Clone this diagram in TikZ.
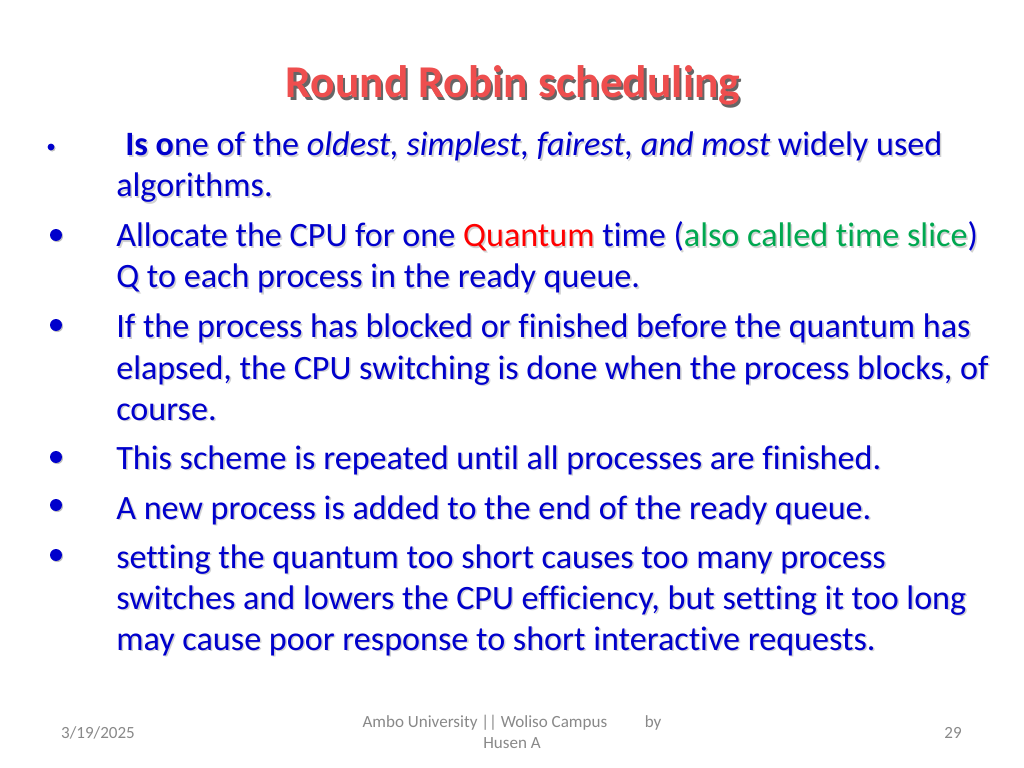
\documentclass[tikz,border=0pt]{standalone}
\usepackage{fontspec}
\setmainfont{Carlito}[Ligatures=NoCommon]
\usetikzlibrary{shadows}
\definecolor{slideblue}{RGB}{0,0,204}
\definecolor{titlered}{RGB}{238,78,78}
\definecolor{slicegreen}{RGB}{0,168,80}
\definecolor{footgray}{RGB}{137,137,137}
\newif\ifshd
\newcommand{\seg}[2]{\ifshd#2\else\textcolor{#1}{#2}\fi}
\tikzset{
  body/.style = {anchor=base west, inner sep=0pt, font=\fontsize{24}{28.8}\selectfont, text=slideblue},
  bodyshd/.style = {body, text=black!18, xshift=1.1pt, yshift=-1.1pt, execute at begin node=\shdtrue},
  title/.style = {anchor=base, inner sep=0pt, font=\fontsize{32}{38}\selectfont\bfseries, text=titlered},
  titleshd/.style = {title, text=black!60, xshift=1.5pt, yshift=-1.5pt},
  dot/.style = {circle, fill=slideblue, inner sep=0pt, minimum size=8.4pt, drop shadow={shadow xshift=0.8pt, shadow yshift=-0.8pt, fill=black!25, opacity=1}},
  smalldot/.style = {dot, minimum size=4.8pt},
  foot/.style = {inner sep=0pt, font=\fontsize{12}{14.8}\selectfont, text=footgray}
}
\newcommand{\bline}[4]{% name, x, y, text
  \node[bodyshd] at (#2,#3) {#4};
  \node[body] (#1) at (#2,#3) {#4};
}
\begin{document}
\begin{tikzpicture}[x={(0.703125pt,0)}, y={(0,-0.703125pt)}]
  \useasboundingbox[fill=white] (0,0) rectangle (1024,768);
  % title
  \node[titleshd] at (513,98) {Round Robin scheduling};
  \node[title] (head) at (513,98) {Round Robin scheduling};
  % bullets
  \node[smalldot] (b1) at (51,147) {};
  \foreach \y [count=\i from 2] in {235,325,457,505,555}
    \node[dot] (b\i) at (56,\y) {};
  % lines
  \bline{l1}{125}{156}{\textbf{Is o}ne of the \textit{oldest, simplest, fairest, and most} widely used}
  \bline{l2}{116}{197}{algorithms.}
  \bline{l3}{116}{247}{Allocate the CPU for one \seg{red}{Quantum} time (\seg{slicegreen}{also called time slice})}
  \bline{l4}{116}{288}{Q to each process in the ready queue.}
  \bline{l5}{116}{338}{If the process has blocked or finished before the quantum has}
  \bline{l6}{116}{379}{elapsed, the CPU switching is done when the process blocks, of}
  \bline{l7}{116}{420}{course.}
  \bline{l8}{116}{469}{This scheme is repeated until all processes are finished.}
  \bline{l9}{116}{519}{A new process is added to the end of the ready queue.}
  \bline{l10}{116}{568}{setting the quantum too short causes too many process}
  \bline{l11}{116}{609}{switches and lowers the CPU efficiency, but setting it too long}
  \bline{l12}{116}{650}{may cause poor response to short interactive requests.}
  % footer
  \node[foot] (date) at (98,733) {3/19/2025};
  \node[foot, align=center] (credit) at (512,732) {Ambo University || Woliso Campus\hspace{2.2em}by\\Husen A};
  \node[foot] (page) at (953,733) {29};
\end{tikzpicture}
\end{document}
